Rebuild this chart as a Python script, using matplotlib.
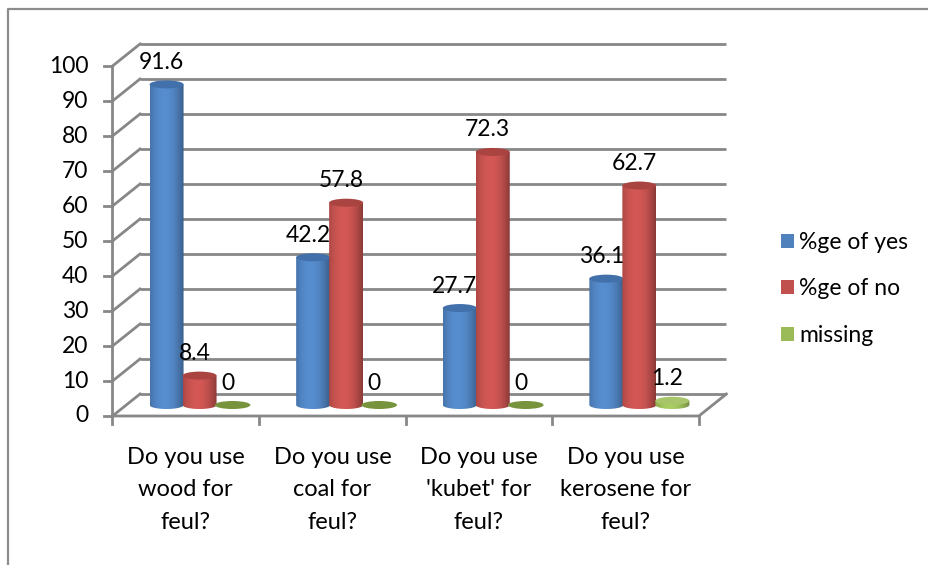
import numpy as np
import matplotlib
matplotlib.use("Agg")
import matplotlib.pyplot as plt
from matplotlib.patches import Ellipse, PathPatch, Patch
from matplotlib.path import Path
from matplotlib.lines import Line2D
from matplotlib.colors import to_rgb

plt.rcParams['font.family'] = ['Lato', 'DejaVu Sans']

# ---- data ----
categories = ["Do you use\nwood for\nfeul?", "Do you use\ncoal for\nfeul?",
              "Do you use\n'kubet' for\nfeul?", "Do you use\nkerosene for\nfeul?"]
series_names = ["%ge of yes", "%ge of no", "missing"]
yes_values = [91.6, 42.2, 27.7, 36.1]
no_values = [8.4, 57.8, 72.3, 62.7]
missing_values = [0, 0, 0, 1.2]
y_ticks = [0, 10, 20, 30, 40, 50, 60, 70, 80, 90, 100]

series_values = [yes_values, no_values, missing_values]
series_colors = ["#4F81BD", "#C0504D", "#9BBB59"]
top_colors = ["#4270AB", "#A94441", "#A8C56A"]
floor_disc = "#77933C"

# ---- geometry (category units on x, value units on y) ----
W_PX, H_PX = 929, 565
X0_PX, CAT_PX = 112.5, 146.6      # front-left corner, width of a category
Y0_PX, UNIT_PX = 416.0, 3.5       # front baseline, pixels per value unit
DX = 27.5 / CAT_PX                # depth shift of the back wall
DY = 22.0 / UNIT_PX
BAR_W = 34.0 / CAT_PX
BAR_STEP = 33.0 / CAT_PX
ELL_H = 8.0 / UNIT_PX
GRID = "#878787"
FS = 16.5

fig = plt.figure(figsize=(W_PX / 100, H_PX / 100), dpi=100)
ax = fig.add_axes([0, 0, 1, 1])
ax.set_axis_off()

# outer chart frame
fx, fy = 8 / W_PX, 1 - 9 / H_PX
fig.add_artist(Line2D([fx, fx, 1.0], [0.0, fy, fy], transform=fig.transFigure,
                      color="#8C8C8C", lw=1.6))

ncat = len(categories)

# back wall gridlines and side wall diagonals
for v in y_ticks:
    ax.plot([DX, ncat + DX], [v + DY, v + DY], color=GRID, lw=2.0, solid_capstyle='butt', zorder=1)
    ax.plot([0, DX], [v, v + DY], color=GRID, lw=2.0, zorder=1)
    ax.plot([-8 / CAT_PX, 0], [v, v], color=GRID, lw=2.0, zorder=1)
    ax.text(-24 / CAT_PX, v, str(v), ha='right', va='center', fontsize=FS, color='black')

# vertical axis and floor
ax.plot([0, 0], [0, y_ticks[-1]], color=GRID, lw=2.0, zorder=1)
ax.plot([0, ncat, ncat + DX], [0, 0, DY], color=GRID, lw=2.0, zorder=1)
for k in range(ncat + 1):
    ax.plot([k, k], [0, -8 / UNIT_PX], color=GRID, lw=2.0, zorder=1)


def shade(color, n=48):
    base = np.array(to_rgb(color))
    t = np.linspace(0, 1, n)
    f = 0.70 + 0.40 * np.clip(1 - ((t - 0.42) / 0.60) ** 2, 0, 1)
    return np.clip(base[None, :] * f[:, None], 0, 1)


def cylinder(xc, v, color, top_color, z):
    y0 = DY / 2
    y1 = y0 + v
    hw = BAR_W / 2
    th = np.linspace(0, np.pi, 40)
    verts = [(xc - hw, y0), (xc - hw, y1), (xc + hw, y1)]
    verts += [(xc + hw * np.cos(a), y0 - ELL_H / 2 * np.sin(a)) for a in th]
    verts.append(verts[0])
    codes = [Path.MOVETO] + [Path.LINETO] * (len(verts) - 2) + [Path.CLOSEPOLY]
    body = PathPatch(Path(verts, codes), facecolor='none', edgecolor='none')
    ax.add_patch(body)
    img = ax.imshow(shade(color)[None, :, :], extent=(xc - hw, xc + hw, y0 - ELL_H, y1),
                    aspect='auto', interpolation='bilinear', zorder=z)
    img.set_clip_path(body)
    ax.add_patch(Ellipse((xc, y1), BAR_W, ELL_H, facecolor=top_color,
                         edgecolor='none', zorder=z + 0.1))


for i in range(ncat):
    gc = i + 0.5 + DX / 2
    for j, vals in enumerate(series_values):
        v = vals[i]
        xc = gc + (j - 1) * BAR_STEP
        if v == 0:
            ax.add_patch(Ellipse((xc, DY / 2), BAR_W * 1.05, ELL_H, facecolor=floor_disc,
                                 edgecolor='none', zorder=3 + j))
        else:
            cylinder(xc, v, series_colors[j], top_colors[j], 3 + j)
        label = f"{v:g}"
        ax.text(xc - 5 / CAT_PX, DY / 2 + v + 22 / UNIT_PX, label, ha='center', va='center',
                fontsize=FS, color='black', zorder=10)

# category labels
for i, name in enumerate(categories):
    ax.text(i + 0.5, (Y0_PX - 490) / UNIT_PX, name, ha='center', va='center',
            fontsize=FS + 0.5, linespacing=1.65, color='black')

ax.set_xlim(-X0_PX / CAT_PX, (W_PX - X0_PX) / CAT_PX)
ax.set_ylim((Y0_PX - H_PX) / UNIT_PX, Y0_PX / UNIT_PX)

handles = [Patch(facecolor=c, edgecolor='none') for c in series_colors]
fig.legend(handles, series_names, loc='center left',
           bbox_to_anchor=(781 / W_PX, 1 - 289 / H_PX), bbox_transform=fig.transFigure,
           frameon=False, fontsize=FS, handlelength=0.55, handleheight=0.55,
           handletextpad=0.25, labelspacing=1.1, borderpad=0, borderaxespad=0)

fig.savefig("out.png", dpi=100, facecolor='white')
